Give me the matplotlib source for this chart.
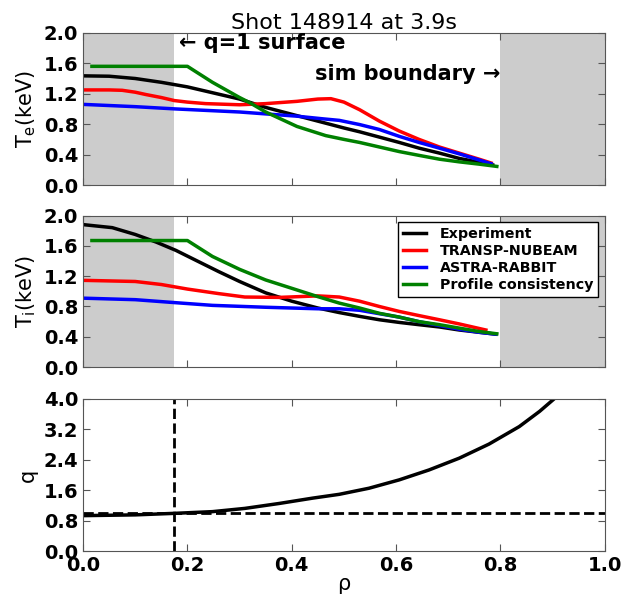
import matplotlib
matplotlib.use("Agg")
import matplotlib.pyplot as plt
import numpy as np

# electron temperature profiles (rho, keV)
rho_te_exp = [0.0, 0.05, 0.1, 0.15, 0.175, 0.2, 0.25, 0.3, 0.35, 0.4, 0.45, 0.5, 0.53, 0.568, 0.606, 0.644, 0.683, 0.721, 0.759, 0.785]
te_exp = [1.435, 1.43, 1.40, 1.35, 1.32, 1.29, 1.21, 1.13, 1.02, 0.93, 0.84, 0.75, 0.70, 0.63, 0.56, 0.485, 0.42, 0.35, 0.30, 0.265]
rho_te_transp = [0.0, 0.05, 0.075, 0.1, 0.12, 0.15, 0.175, 0.2, 0.235, 0.3, 0.35, 0.41, 0.45, 0.475, 0.5, 0.53, 0.568, 0.606, 0.644, 0.683, 0.721, 0.759, 0.782]
te_transp = [1.25, 1.25, 1.245, 1.22, 1.19, 1.15, 1.11, 1.09, 1.07, 1.055, 1.07, 1.10, 1.13, 1.135, 1.09, 0.99, 0.84, 0.71, 0.60, 0.50, 0.42, 0.34, 0.29]
rho_te_astra = [0.0, 0.1, 0.178, 0.3, 0.41, 0.46, 0.491, 0.53, 0.568, 0.606, 0.644, 0.683, 0.721, 0.759, 0.782]
te_astra = [1.06, 1.03, 1.00, 0.96, 0.905, 0.87, 0.85, 0.795, 0.73, 0.64, 0.56, 0.485, 0.41, 0.33, 0.28]
rho_te_pc = [0.017, 0.2, 0.248, 0.3, 0.32, 0.35, 0.41, 0.465, 0.5, 0.53, 0.568, 0.606, 0.644, 0.683, 0.721, 0.759, 0.793]
te_pc = [1.56, 1.56, 1.35, 1.15, 1.08, 0.96, 0.77, 0.65, 0.60, 0.56, 0.50, 0.44, 0.39, 0.34, 0.305, 0.275, 0.245]

# ion temperature profiles (rho, keV)
rho_ti_exp = [0.0, 0.056, 0.1, 0.14, 0.178, 0.216, 0.26, 0.3, 0.35, 0.4, 0.45, 0.491, 0.53, 0.568, 0.606, 0.644, 0.683, 0.721, 0.759, 0.791]
ti_exp = [1.88, 1.84, 1.75, 1.65, 1.54, 1.41, 1.26, 1.13, 0.98, 0.87, 0.78, 0.72, 0.67, 0.625, 0.59, 0.56, 0.53, 0.49, 0.46, 0.435]
rho_ti_transp = [0.0, 0.1, 0.15, 0.2, 0.26, 0.31, 0.376, 0.45, 0.491, 0.53, 0.568, 0.606, 0.644, 0.683, 0.721, 0.772]
ti_transp = [1.145, 1.13, 1.09, 1.03, 0.97, 0.925, 0.92, 0.94, 0.925, 0.87, 0.80, 0.735, 0.68, 0.625, 0.57, 0.49]
rho_ti_astra = [0.0, 0.1, 0.178, 0.248, 0.35, 0.45, 0.491, 0.53, 0.568, 0.606, 0.644, 0.683, 0.721, 0.759, 0.791]
ti_astra = [0.91, 0.89, 0.85, 0.815, 0.79, 0.77, 0.77, 0.75, 0.705, 0.66, 0.60, 0.55, 0.50, 0.46, 0.435]
rho_ti_pc = [0.017, 0.2, 0.248, 0.3, 0.35, 0.4, 0.45, 0.491, 0.53, 0.568, 0.606, 0.644, 0.683, 0.721, 0.759, 0.793]
ti_pc = [1.67, 1.67, 1.46, 1.29, 1.15, 1.04, 0.93, 0.845, 0.78, 0.71, 0.66, 0.60, 0.56, 0.515, 0.47, 0.44]

# safety factor
rho_q = [0.0, 0.1, 0.175, 0.248, 0.31, 0.376, 0.44, 0.491, 0.548, 0.606, 0.663, 0.721, 0.778, 0.836, 0.875, 0.903]
q = [0.93, 0.95, 0.99, 1.035, 1.12, 1.25, 1.39, 1.49, 1.65, 1.87, 2.13, 2.44, 2.81, 3.27, 3.67, 4.0]

rho_q1 = 0.175
rho_sim = 0.8
series_names = ["Experiment", "TRANSP-NUBEAM", "ASTRA-RABBIT", "Profile consistency"]
series_colors = ["k", "r", "b", "g"]

plt.rcParams["font.weight"] = "bold"
plt.rcParams["xtick.direction"] = "in"
plt.rcParams["ytick.direction"] = "in"
plt.rcParams["xtick.top"] = True
plt.rcParams["ytick.right"] = True
plt.rcParams["xtick.major.size"] = 5
plt.rcParams["ytick.major.size"] = 5
plt.rcParams["axes.edgecolor"] = "#555555"
plt.rcParams["xtick.color"] = "#555555"
plt.rcParams["ytick.color"] = "#555555"
plt.rcParams["xtick.labelcolor"] = "black"
plt.rcParams["ytick.labelcolor"] = "black"

fig = plt.figure(figsize=(6.34, 5.97), dpi=100)
left, width = 0.131, 0.823
ax1 = fig.add_axes([left, 0.690, width, 0.255])
ax2 = fig.add_axes([left, 0.385, width, 0.254])
ax3 = fig.add_axes([left, 0.077, width, 0.255])

lw = 2.5
for ax in (ax1, ax2):
    ax.axvspan(0, rho_q1, color="#cccccc", lw=0)
    ax.axvspan(rho_sim, 1.0, color="#cccccc", lw=0)
    ax.set_xlim(0, 1)
    ax.set_ylim(0, 2.0)
    ax.set_yticks(np.arange(0, 2.01, 0.4))
    ax.set_xticks(np.arange(0, 1.01, 0.2))
    ax.set_xticklabels([])
    ax.tick_params(labelsize=14)

te_sets = [(rho_te_exp, te_exp), (rho_te_transp, te_transp), (rho_te_astra, te_astra), (rho_te_pc, te_pc)]
for (x, y), c in zip(te_sets, series_colors):
    ax1.plot(x, y, color=c, lw=lw)
ax1.set_ylabel(r"T$_\mathregular{e}$(keV)", fontsize=15, fontweight="normal")
ax1.set_title("Shot 148914 at 3.9s", fontsize=16, fontweight="normal", pad=3)
ax1.text(0.183, 1.86, "\u2190 q=1 surface", fontsize=15, fontweight="bold", va="center", ha="left")
ax1.text(0.8, 1.46, "sim boundary \u2192", fontsize=15, fontweight="bold", va="center", ha="right")

ti_sets = [(rho_ti_exp, ti_exp), (rho_ti_transp, ti_transp), (rho_ti_astra, ti_astra), (rho_ti_pc, ti_pc)]
for (x, y), c, name in zip(ti_sets, series_colors, series_names):
    ax2.plot(x, y, color=c, lw=lw, label=name)
ax2.set_ylabel(r"T$_\mathregular{i}$(keV)", fontsize=15, fontweight="normal")
ax2.legend(loc="upper right", prop={"weight": "bold", "size": 10.3},
           fancybox=False, framealpha=1, edgecolor="black", borderaxespad=0.45,
           handlelength=1.6, handletextpad=1.0, labelspacing=0.2, borderpad=0.35)

ax3.plot(rho_q, q, color="k", lw=lw)
ax3.axhline(1.0, color="k", ls="--", lw=2)
ax3.axvline(rho_q1, color="k", ls="--", lw=2)
ax3.set_xlim(0, 1)
ax3.set_ylim(0, 4.0)
ax3.set_yticks(np.arange(0, 4.01, 0.8))
ax3.set_xticks(np.arange(0, 1.01, 0.2))
ax3.tick_params(labelsize=14)
ax3.set_ylabel("q", fontsize=15, fontweight="normal")
ax3.set_xlabel(r"$\mathregular{\rho}$", fontsize=15, fontweight="normal", labelpad=1)

fig.savefig("out.png", dpi=100)
